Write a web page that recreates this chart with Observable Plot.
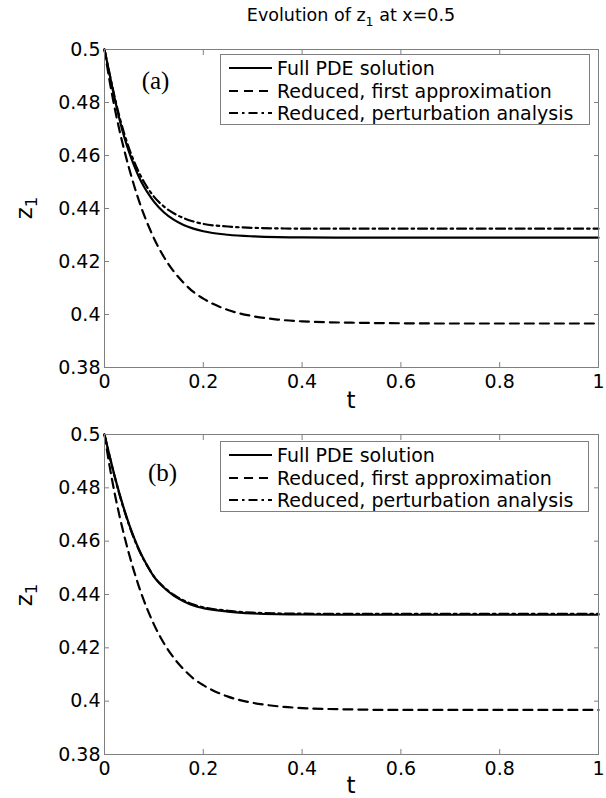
<!DOCTYPE html>
<html><head><meta charset="utf-8">
<script src="https://cdn.jsdelivr.net/npm/d3@7"></script>
<script src="https://cdn.jsdelivr.net/npm/@observablehq/plot@0.6"></script>
<style>
html,body{margin:0;padding:0;background:#fff;}
#root{position:relative;width:606px;height:798px;overflow:hidden;font-family:"DejaVu Sans",sans-serif;color:#000;}
.abs{position:absolute;}
.lbl{position:absolute;white-space:nowrap;line-height:1;}
sub{font-size:0.72em;vertical-align:-0.35em;line-height:0;}
.legend{position:absolute;border:1px solid #7f7f7f;background:#fff;box-sizing:border-box;}
.row{position:absolute;left:0;height:22px;display:flex;align-items:center;font-size:19px;white-space:nowrap;}
.row svg{margin-left:8px;margin-right:5px;}
</style></head><body>
<div id="root"></div>
<script>
// ---- data ----
const tValues = [0, 0.01, 0.02, 0.03, 0.04, 0.05, 0.06, 0.07, 0.08, 0.09, 0.1, 0.12, 0.14, 0.16, 0.18, 0.2, 0.25, 0.3, 0.35, 0.4, 0.5, 0.6, 0.7, 0.8, 0.9, 1.0];

// panel (a)
const fullA  = [0.5, 0.491, 0.482, 0.474, 0.467, 0.4612, 0.4562, 0.4518, 0.4482, 0.4452, 0.4426, 0.4386, 0.4358, 0.4338, 0.4324, 0.4314, 0.4301, 0.4295, 0.4292, 0.4291, 0.429, 0.429, 0.429, 0.429, 0.429, 0.429];
const firstA = [0.5, 0.4885, 0.4785, 0.4698, 0.462, 0.455, 0.4486, 0.4428, 0.4376, 0.433, 0.4288, 0.4218, 0.4163, 0.412, 0.4085, 0.406, 0.4017, 0.3994, 0.3981, 0.3974, 0.3969, 0.3967, 0.3966, 0.3966, 0.3966, 0.3966];
const pertA  = [0.5, 0.491, 0.4825, 0.4748, 0.4682, 0.4625, 0.4577, 0.4535, 0.45, 0.447, 0.4445, 0.4408, 0.4382, 0.4364, 0.4351, 0.4342, 0.4332, 0.4327, 0.4325, 0.4324, 0.4324, 0.4324, 0.4324, 0.4324, 0.4324, 0.4324];

// panel (b)
const fullB  = [0.5, 0.4922, 0.4848, 0.478, 0.4718, 0.4662, 0.4612, 0.4568, 0.453, 0.4497, 0.4467, 0.4426, 0.4396, 0.4375, 0.4359, 0.4349, 0.4336, 0.4329, 0.4326, 0.4325, 0.4324, 0.4324, 0.4324, 0.4324, 0.4324, 0.4324];
const firstB = [0.5, 0.4885, 0.4785, 0.4698, 0.462, 0.455, 0.4486, 0.4428, 0.4376, 0.433, 0.4288, 0.4218, 0.4163, 0.412, 0.4085, 0.406, 0.4017, 0.3994, 0.3981, 0.3974, 0.3969, 0.3967, 0.3967, 0.3967, 0.3967, 0.3967];
const pertB  = [0.5, 0.4921, 0.4846, 0.4777, 0.4715, 0.4659, 0.4609, 0.4566, 0.4529, 0.4497, 0.4468, 0.4428, 0.4399, 0.4378, 0.4362, 0.4352, 0.4339, 0.4332, 0.4329, 0.4328, 0.4327, 0.4327, 0.4327, 0.4327, 0.4327, 0.4327];

const xTicks = [0, 0.2, 0.4, 0.6, 0.8, 1];
const xTickLabels = ["0", "0.2", "0.4", "0.6", "0.8", "1"];
const yTicks = [0.38, 0.4, 0.42, 0.44, 0.46, 0.48, 0.5];
const yTickLabels = ["0.38", "0.4", "0.42", "0.44", "0.46", "0.48", "0.5"];

const seriesNames = ["Full PDE solution", "Reduced, first approximation", "Reduced, perturbation analysis"];
const title = "Evolution of z<sub>1</sub> at x=0.5";
const panelLabels = ["(a)", "(b)"];
const xLabel = "t";
const yLabel = "z<sub>1</sub>";

// ---- styles ----
const GRAY = "#7f7f7f";
const dashes = [null, "9,6", "9,4,2.5,4"];
const LW = 2.2;

const root = document.getElementById("root");

function panel(series, label, cfg) {
  const fx = d => xTickLabels[xTicks.indexOf(d)];
  const fy = d => yTickLabels[yTicks.indexOf(d)];
  const chart = Plot.plot({
    width: 606, height: cfg.height,
    marginLeft: 104, marginRight: 8, marginTop: cfg.mt, marginBottom: cfg.mb,
    style: {fontFamily: "DejaVu Sans, sans-serif", fontSize: "19px", color: "#000", background: "transparent", overflow: "visible"},
    x: {domain: [0, 1]},
    y: {domain: [0.38, 0.5]},
    marks: [
      Plot.axisX(xTicks, {anchor: "bottom", tickSize: 0, tickPadding: 7, tickFormat: fx, label: null, fill: "#000"}),
      Plot.axisY(yTicks, {anchor: "left", tickSize: 0, tickPadding: 4, tickFormat: fy, label: null, fill: "#000"}),
      Plot.axisX(xTicks, {anchor: "bottom", tickSize: -5, tickFormat: () => "", label: null, stroke: GRAY}),
      Plot.axisX(xTicks, {anchor: "top", tickSize: -5, tickFormat: () => "", label: null, stroke: GRAY}),
      Plot.axisY(yTicks, {anchor: "left", tickSize: -5, tickFormat: () => "", label: null, stroke: GRAY}),
      Plot.axisY(yTicks, {anchor: "right", tickSize: -5, tickFormat: () => "", label: null, stroke: GRAY}),
      ...series.map((s, i) => Plot.line(tValues, {x: tValues, y: s, curve: "monotone-x", stroke: "#000", strokeWidth: LW, strokeDasharray: dashes[i]})),
      Plot.text([label], {frameAnchor: "top-left", dx: cfg.lx, dy: cfg.ly, text: d => d, fontFamily: "Liberation Serif, serif", fontSize: 25, textAnchor: "middle", lineAnchor: "middle", fill: "#000"}),
      Plot.frame({stroke: GRAY, strokeWidth: 1})
    ]
  });
  chart.classList.add("abs");
  chart.style.left = "0px";
  chart.style.top = cfg.top + "px";
  root.appendChild(chart);
}

panel([fullA, firstA, pertA], panelLabels[0], {top: 0, height: 400, mt: 49, mb: 33, lx: 51, ly: 31});
panel([fullB, firstB, pertB], panelLabels[1], {top: 400, height: 398, mt: 34, mb: 44, lx: 58, ly: 38});

function addLabel(html, x, y, size, rotate) {
  const d = document.createElement("div");
  d.className = "lbl";
  d.innerHTML = html;
  d.style.fontSize = size + "px";
  d.style.left = x + "px";
  d.style.top = y + "px";
  d.style.transform = "translate(-50%,-50%)" + (rotate ? " rotate(-90deg)" : "");
  root.appendChild(d);
}

addLabel(title, 351, 16, 17.5);
addLabel(xLabel, 351, 400, 23);
addLabel(xLabel, 351, 785, 23);
addLabel(yLabel, 24, 208, 23, true);
addLabel(yLabel, 24, 595, 23, true);

function legend(left, top, width, height) {
  const box = document.createElement("div");
  box.className = "legend";
  Object.assign(box.style, {left: left + "px", top: top + "px", width: width + "px", height: height + "px"});
  seriesNames.forEach((name, i) => {
    const r = document.createElement("div");
    r.className = "row";
    r.style.top = (2 + i * 22.5) + "px";
    const dash = dashes[i] ? `stroke-dasharray="${dashes[i]}"` : "";
    r.innerHTML = `<svg width="43" height="6"><line x1="0" y1="3" x2="43" y2="3" stroke="#000" stroke-width="${LW}" ${dash}/></svg><span>${name}</span>`;
    box.appendChild(r);
  });
  root.appendChild(box);
}
legend(220, 54, 370, 71);
legend(220, 441, 369, 71);
</script>
</body></html>
